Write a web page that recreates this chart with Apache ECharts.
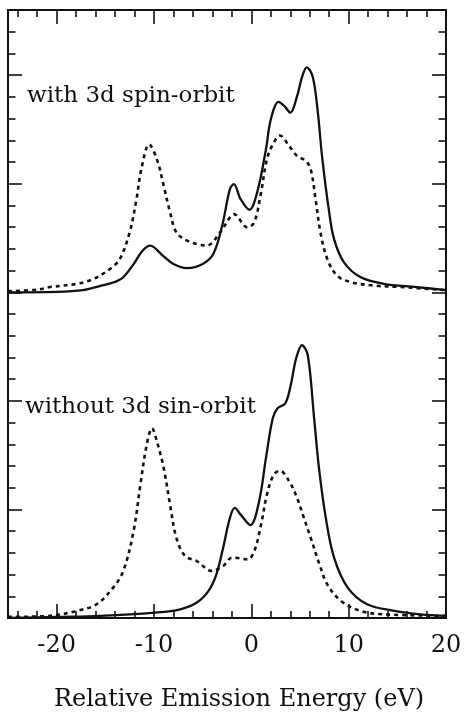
<!DOCTYPE html>
<html>
<head>
<meta charset="utf-8">
<script src="https://cdn.jsdelivr.net/npm/echarts@6/dist/echarts.min.js"></script>
<style>
  html, body { margin: 0; padding: 0; background: #fff; }
  #chart { width: 468px; height: 717px; }
</style>
</head>
<body>
<div id="chart"></div>
<script>
// Emission spectra, energies in eV, intensities in arbitrary units above each panel's baseline.

// Upper panel: with 3d spin-orbit coupling
const withSO_solid_E = [-25, -20, -17.3, -15.5, -14.2, -13.2, -12.2, -11.2, -10.4, -9.1, -8.0, -6.6, -5.0, -3.9, -3.0, -2.2, -1.8, -1.1, -0.2, 0.6, 1.5, 2.0, 2.8, 3.4, 4.0, 4.7, 5.2, 5.7, 6.3, 6.8, 7.3, 8.0, 8.5, 9.5, 11.2, 13.6, 17.0, 20];
const withSO_solid_I = [0.0, 0.02, 0.1, 0.3, 0.45, 0.68, 1.23, 1.9, 2.15, 1.69, 1.3, 1.11, 1.3, 1.77, 3.06, 4.75, 4.98, 4.29, 3.8, 4.6, 6.58, 7.96, 8.77, 8.57, 8.27, 9.03, 9.9, 10.36, 9.94, 8.42, 6.12, 3.68, 2.45, 1.39, 0.7, 0.39, 0.24, 0.1];

const withSO_dashed_E = [-25, -22, -20.7, -17.9, -16.2, -14.5, -13.5, -12.5, -11.8, -11.3, -10.5, -9.7, -9.0, -8.35, -7.7, -6.6, -4.6, -3.2, -2.2, -1.8, -0.4, 0.3, 1.0, 1.6, 2.3, 2.95, 3.9, 4.7, 5.6, 6.1, 6.6, 7.1, 7.8, 8.8, 10.2, 12.6, 15.4, 20];
const withSO_dashed_I = [0.05, 0.12, 0.24, 0.39, 0.62, 1.08, 1.54, 2.76, 4.29, 5.67, 6.81, 6.12, 4.9, 3.68, 2.76, 2.38, 2.15, 2.76, 3.45, 3.6, 2.99, 3.22, 4.6, 6.12, 6.89, 7.22, 6.73, 6.28, 6.05, 5.67, 4.29, 2.76, 1.54, 0.77, 0.47, 0.31, 0.24, 0.1];

// Lower panel: without 3d spin-orbit coupling
const noSO_solid_E = [-25, -20, -15.5, -9.9, -7.3, -5.6, -4.4, -3.6, -2.9, -2.2, -1.7, -1.1, -0.1, 0.8, 1.5, 2.2, 2.7, 3.5, 4.05, 4.6, 5.2, 5.8, 6.45, 6.95, 7.65, 8.5, 9.9, 11.9, 14.7, 17.4, 20];
const noSO_solid_I = [0.0, 0.05, 0.1, 0.25, 0.4, 0.71, 1.25, 2.0, 3.23, 4.61, 5.07, 4.76, 4.28, 5.38, 7.36, 9.2, 9.66, 9.89, 10.73, 11.95, 12.56, 12.1, 9.2, 6.9, 4.61, 2.78, 1.4, 0.63, 0.33, 0.17, 0.1];

const noSO_dashed_E = [-25, -20.7, -17.9, -15.9, -14.2, -13.15, -12.1, -11.4, -10.75, -10.2, -9.7, -9.0, -8.35, -7.7, -6.8, -5.6, -4.1, -2.9, -2.0, -1.8, -0.4, 0.3, 1.0, 1.6, 2.3, 2.95, 3.9, 4.7, 5.4, 6.1, 7.0, 7.8, 9.2, 11.2, 13.6, 20];
const noSO_dashed_I = [0.05, 0.1, 0.33, 0.63, 1.4, 2.17, 4.0, 6.14, 7.97, 8.74, 8.13, 6.9, 5.22, 3.69, 2.85, 2.62, 2.17, 2.39, 2.78, 2.78, 2.7, 3.08, 4.3, 5.68, 6.6, 6.78, 6.29, 5.53, 4.61, 3.69, 2.47, 1.55, 0.79, 0.33, 0.17, 0.1];

// Axis ticks and labels
const xMajorTicks = [-20, -10, 0, 10, 20];
const xMinorTicks = [-24, -22, -18, -16, -14, -12, -8, -6, -4, -2, 2, 4, 6, 8, 12, 14, 16, 18];
const yMajorTicks = [0, 5, 10, 15, 20, 25];
const yMinorTicks = [1, 2, 3, 4, 6, 7, 8, 9, 11, 12, 13, 14, 16, 17, 18, 19, 21, 22, 23, 24, 26, 27];
const xTitle = 'Relative Emission Energy (eV)';
const upperLabel = 'with 3d spin-orbit';
const lowerLabel = 'without 3d sin-orbit';

// Vertical offset of the upper spectrum pair
const UPPER_BASE = 15;

const zip = (xs, ys, off) => xs.map((x, i) => [x, ys[i] + off]);

const INK = '#111';
const SERIF = '"DejaVu Serif", serif';

function xAxisDef(position, ticks, len, withLabels) {
  return {
    type: 'value', position, min: -25, max: 20,
    axisLine: { show: true, onZero: false, lineStyle: { color: INK, width: 2 } },
    axisTick: { show: true, inside: true, length: len, customValues: ticks, lineStyle: { color: INK, width: 1.6 } },
    axisLabel: withLabels
      ? { show: true, customValues: xMajorTicks, margin: 16, color: INK, fontSize: 24, fontFamily: SERIF }
      : { show: false },
    splitLine: { show: false }
  };
}
function yAxisDef(position, ticks, len) {
  return {
    type: 'value', position, min: 0, max: 28,
    axisLine: { show: true, onZero: false, lineStyle: { color: INK, width: 2 } },
    axisTick: { show: true, inside: true, length: len, customValues: ticks, lineStyle: { color: INK, width: 1.6 } },
    axisLabel: { show: false },
    splitLine: { show: false }
  };
}

const solidStyle = { color: INK, width: 2.3, type: 'solid' };
const dashedStyle = { color: INK, width: 2.6, type: [4, 4] };

function lineSeries(data, style) {
  return {
    type: 'line', data, xAxisIndex: 0, yAxisIndex: 0,
    smooth: 0.35, showSymbol: false, symbol: 'none',
    lineStyle: style, animation: false, silent: true
  };
}

const chart = echarts.init(document.getElementById('chart'), null, { renderer: 'canvas' });
chart.setOption({
  backgroundColor: '#fff',
  animation: false,
  grid: { left: 8, right: 22, top: 10, bottom: 96.5, containLabel: false },
  xAxis: [
    Object.assign(xAxisDef('bottom', xMajorTicks, 14, true), {
      name: xTitle, nameLocation: 'middle', nameGap: 70,
      nameTextStyle: { color: INK, fontSize: 24, fontFamily: SERIF, padding: [0, 0, 0, 24] }
    }),
    xAxisDef('bottom', xMinorTicks, 7, false),
    xAxisDef('top', xMajorTicks, 14, false),
    xAxisDef('top', xMinorTicks, 7, false)
  ],
  yAxis: [
    yAxisDef('left', yMajorTicks, 14),
    yAxisDef('left', yMinorTicks, 7.5),
    yAxisDef('right', yMajorTicks, 14),
    yAxisDef('right', yMinorTicks, 7.5)
  ],
  series: [
    lineSeries(zip(withSO_dashed_E, withSO_dashed_I, UPPER_BASE), dashedStyle),
    lineSeries(zip(withSO_solid_E, withSO_solid_I, UPPER_BASE), solidStyle),
    lineSeries(zip(noSO_dashed_E, noSO_dashed_I, 0), dashedStyle),
    lineSeries(zip(noSO_solid_E, noSO_solid_I, 0), solidStyle)
  ],
  graphic: [
    { type: 'text', left: 27, top: 85, style: { text: upperLabel, font: '23px ' + SERIF, fill: INK } },
    { type: 'text', left: 25, top: 396, style: { text: lowerLabel, font: '23px ' + SERIF, fill: INK } }
  ]
});
</script>
</body>
</html>
